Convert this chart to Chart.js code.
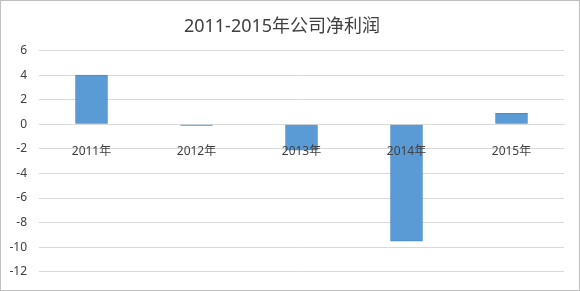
<!DOCTYPE html>
<html>
<head>
<meta charset="utf-8">
<script src="https://cdn.jsdelivr.net/npm/chart.js@4/dist/chart.umd.min.js"></script>
<style>
  html, body { margin: 0; padding: 0; background: #fff; }
  #wrap { width: 580px; height: 291px; position: relative; }
</style>
</head>
<body>
<div id="wrap"><canvas id="profitChart" width="580" height="291"></canvas></div>
<script>
const years = ['2011年', '2012年', '2013年', '2014年', '2015年'];
const netProfit = [4.0, -0.08, -2.1, -9.5, 0.9];
const yTicks = [6, 4, 2, 0, -2, -4, -6, -8, -10, -12];

const fontFamily = '"Noto Sans", "Noto Sans CJK SC", sans-serif';

// thin grey frame around the whole picture
const framePlugin = {
    id: 'frame',
    afterDraw(chart) {
        const ctx = chart.ctx;
        ctx.save();
        ctx.strokeStyle = '#bfbfbf';
        ctx.lineWidth = 1;
        ctx.strokeRect(0.5, 0.5, chart.width - 1, chart.height - 1);
        ctx.restore();
    }
};

const ctx = document.getElementById('profitChart').getContext('2d');
new Chart(ctx, {
    type: 'bar',
    data: {
        labels: years,
        datasets: [{
            label: '净利润',
            data: netProfit,
            backgroundColor: '#5b9bd5',
            borderColor: '#4a8ac8',
            borderWidth: 1,
            barThickness: 32
        }]
    },
    options: {
        responsive: false,
        animation: false,
        layout: {
            padding: { left: 0, right: 16, top: 0, bottom: 19 }
        },
        plugins: {
            legend: { display: false },
            tooltip: { enabled: false },
            title: {
                display: true,
                text: '2011-2015年公司净利润',
                color: '#404040',
                font: { family: fontFamily, size: 18, weight: 'normal' },
                padding: { top: 16, bottom: 13 }
            }
        },
        scales: {
            x: {
                position: { y: 0 },
                grid: { display: false },
                border: { color: '#d9d9d9' },
                ticks: {
                    z: 1, // labels sit on top of the bars
                    color: '#404040',
                    padding: 12,
                    font: { family: fontFamily, size: 12 }
                }
            },
            y: {
                min: -12,
                max: 6,
                afterBuildTicks(scale) {
                    scale.ticks = yTicks.map(v => ({ value: v }));
                },
                afterFit(scale) {
                    scale.width = 39;
                },
                grid: { color: '#d9d9d9', drawTicks: false },
                border: { display: false },
                ticks: {
                    color: '#404040',
                    padding: 12,
                    font: { family: fontFamily, size: 12 }
                }
            }
        }
    },
    plugins: [framePlugin]
});
</script>
</body>
</html>
